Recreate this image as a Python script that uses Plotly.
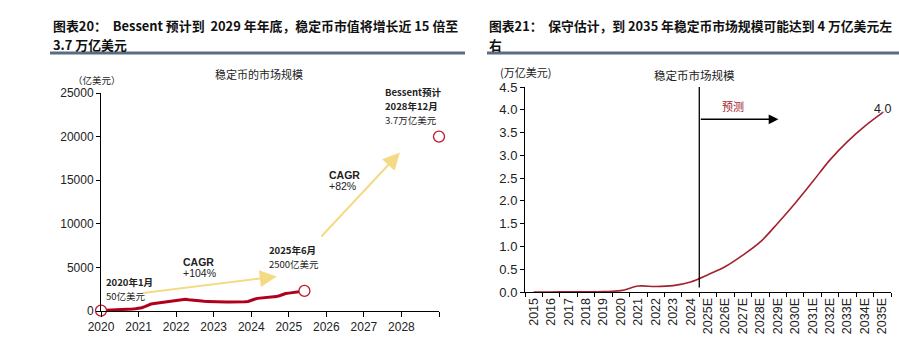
import plotly.graph_objects as go

W, H = 899, 339

def px(x):
    return x / W

def py(y):
    return 1 - y / H

# ---------------- Left chart data (亿美元) ----------------
left_years = [2020, 2021, 2022, 2023, 2024, 2025, 2026, 2027, 2028, 2029]
left_ticktext = ["2020", "2021", "2022", "2023", "2024", "2025", "2026", "2027", "2028", ""]
monthly_cap = [
    50, 60, 80, 100, 110, 120, 130, 150, 180, 200, 220, 250,          # 2020
    300, 380, 500, 650, 800, 850, 900, 950, 1000, 1050, 1100, 1180,   # 2021
    1200, 1250, 1300, 1350, 1300, 1250, 1200, 1180, 1150, 1120, 1100, 1080,  # 2022
    1050, 1040, 1050, 1030, 1020, 1040, 1030, 1020, 1030, 1040, 1060, 1100,  # 2023
    1250, 1350, 1450, 1480, 1500, 1520, 1550, 1600, 1650, 1750, 1900, 2000,  # 2024
    2050, 2100, 2150, 2200, 2250, 2300,                                # 2025 H1
]
month_x = [2020 + i / 12 for i in range(len(monthly_cap))]
marker_x = [2020.0, 2020 + 5 / 12 + 5, 2029.0]
marker_y = [50, 2300, 20000]
arrow1 = dict(x0=2021.08, y0=2040, x1=2024.68, y1=3950)
arrow2 = dict(x0=2025.83, y0=8375, x1=2027.96, y1=18170)

# ---------------- Right chart data (万亿美元) ----------------
right_cats = ["2015", "2016", "2017", "2018", "2019", "2020", "2021", "2022", "2023", "2024",
              "2025E", "2026E", "2027E", "2028E", "2029E", "2030E", "2031E", "2032E",
              "2033E", "2034E", "2035E"]
right_vals = [0.0, 0.0, 0.005, 0.005, 0.01, 0.03, 0.13, 0.12, 0.14, 0.22,
              0.38, 0.56, 0.81, 1.10, 1.51, 1.95, 2.42, 2.90, 3.30, 3.64, 3.93]

RED = "#B0001E"
TXT = "#222222"
FONT = "Arial, Liberation Sans, sans-serif"
CJK = "Noto Sans CJK SC"
YEL = "#F5DA86"

fig = go.Figure()

fig.add_trace(go.Scatter(x=month_x, y=monthly_cap, mode="lines",
                         line=dict(color=RED, width=3), xaxis="x", yaxis="y",
                         hoverinfo="skip", showlegend=False))
fig.add_trace(go.Scatter(x=marker_x, y=marker_y, mode="markers", cliponaxis=False,
                         marker=dict(symbol="circle", size=11, color="white",
                                     line=dict(color="#C0182E", width=1.3)),
                         xaxis="x", yaxis="y", showlegend=False))

fig.add_trace(go.Scatter(x=right_cats, y=right_vals, mode="lines",
                         line=dict(color="#A3222E", width=1.6, shape="spline"),
                         xaxis="x2", yaxis="y2", showlegend=False))

axis_common = dict(showgrid=False, zeroline=False, showline=True, linecolor="black",
                   linewidth=1, ticks="outside", tickcolor="black", ticklen=4,
                   automargin=False,
                   tickfont=dict(family=FONT, size=12, color=TXT))

fig.update_layout(
    width=W, height=H, margin=dict(l=0, r=0, t=0, b=0, autoexpand=False),
    paper_bgcolor="white", plot_bgcolor="white", showlegend=False,
    xaxis=dict(axis_common, domain=[px(101), px(439)], range=[2020, 2029],
               tickvals=left_years, ticktext=left_ticktext, anchor="y", ticklen=5),
    yaxis=dict(axis_common, domain=[py(311), py(93)], range=[0, 25000],
               tickvals=[0, 5000, 10000, 15000, 20000, 25000], tickformat="d",
               anchor="x"),
    xaxis2=dict(axis_common, domain=[px(525), px(891)], type="category",
                categoryorder="array", categoryarray=right_cats,
                range=[-0.5, 20.5], tickson="boundaries", tickangle=-90,
                anchor="y2", tickfont=dict(family=FONT, size=12.5, color=TXT)),
    yaxis2=dict(axis_common, domain=[py(292), py(87)], range=[0, 4.5],
                tickvals=[0, 0.5, 1, 1.5, 2, 2.5, 3, 3.5, 4, 4.5], tickformat=".1f",
                anchor="x2", tickfont=dict(family=FONT, size=13, color=TXT)),
)

ann = []

def text(x, y, s, size=10, bold=False, color=TXT, xanchor="left", family=CJK,
         xref="paper", yref="paper"):
    ann.append(dict(x=x, y=y, xref=xref, yref=yref, text=("<b>%s</b>" % s) if bold else s,
                    showarrow=False, xanchor=xanchor, yanchor="middle",
                    font=dict(family=family, size=size, color=color)))

# Titles
text(px(51), py(25.5), "图表20：  Bessent 预计到  2029 年年底，稳定币市值将增长近 15 倍至", size=12.9, bold=True, color="#111")
text(px(51), py(45), "3.7 万亿美元", size=12.9, bold=True, color="#111")
text(px(487), py(25.5), "图表21：  保守估计，到 2035 年稳定币市场规模可能达到 4 万亿美元左", size=12.8, bold=True, color="#111")
text(px(487), py(45), "右", size=12.8, bold=True, color="#111")

# Left chart labels
text(px(259), py(74), "稳定币的市场规模", size=11, xanchor="center")
text(px(97), py(80.5), "（亿美元）", size=9.5, xanchor="center")
text(px(104), py(281.5), "2020年1月", size=9.5, bold=True)
text(px(104), py(295.5), "50亿美元", size=9.5)
text(px(181), py(262), "CAGR", size=10.5, bold=True, family=FONT)
text(px(181), py(273), "+104%", size=10.5, family=FONT)
text(px(267), py(249.5), "2025年6月", size=9.5, bold=True)
text(px(267), py(263.5), "2500亿美元", size=9.5)
text(px(327), py(175), "CAGR", size=10.5, bold=True, family=FONT)
text(px(327), py(186), "+82%", size=10.5, family=FONT)
text(px(383), py(92), "Bessent预计", size=9.5, bold=True)
text(px(383), py(106), "2028年12月", size=9.5, bold=True)
text(px(383), py(120), "3.7万亿美元", size=9.5)

# Right chart labels
text(px(525), py(72), "(万亿美元)", size=11, xanchor="center")
text(px(694), py(75), "稳定币市场规模", size=11.5, xanchor="center")
text(11.45, 4.08, "预测", size=11, color="#A3222E", xanchor="center", xref="x2", yref="y2")
text(20, 4.02, "4.0", size=12.5, color=TXT, xanchor="center", family=FONT, xref="x2", yref="y2")

# Yellow arrows
for a in (arrow1, arrow2):
    ann.append(dict(x=a["x1"], y=a["y1"], ax=a["x0"], ay=a["y0"], xref="x", yref="y",
                    axref="x", ayref="y", showarrow=True, arrowhead=2, arrowsize=1.7,
                    arrowwidth=2, arrowcolor=YEL, standoff=0, text=""))

# Forecast arrow
ann.append(dict(x=14.04, y=3.79, ax=9.5, ay=3.79, xref="x2", yref="y2", axref="x2",
                ayref="y2", showarrow=True, arrowhead=2, arrowsize=1.3, arrowwidth=1.5,
                arrowcolor="black", standoff=0, text=""))

fig.update_layout(annotations=ann)

shapes = [
    dict(type="line", xref="paper", yref="paper", x0=px(50), x1=px(465), y0=py(53), y1=py(53),
         line=dict(color="#5B6B80", width=3)),
    dict(type="line", xref="paper", yref="paper", x0=px(487), x1=px(899), y0=py(53), y1=py(53),
         line=dict(color="#5B6B80", width=3)),
    dict(type="line", xref="x2", yref="y2", x0=9.5, x1=9.5, y0=0.1, y1=4.5,
         line=dict(color="black", width=1.3)),
]
fig.update_layout(shapes=shapes)

fig.write_html("out.html")
